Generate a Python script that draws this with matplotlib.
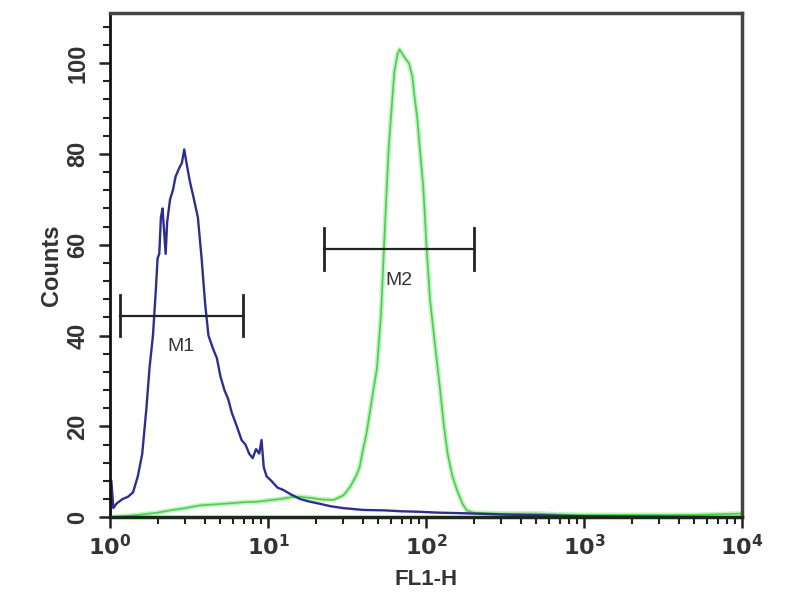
# plot.py
# flow cytometry histogram: control (blue) vs stained (green), FL1-H on log scale

import matplotlib.pyplot as plt
from matplotlib.ticker import MultipleLocator, LogLocator, FixedFormatter, FixedLocator

plt.rcParams['font.family'] = ['Liberation Sans', 'DejaVu Sans']

# control histogram (blue)
blue_x = [1.0, 1.02, 1.05, 1.1, 1.2, 1.3, 1.4, 1.5, 1.6, 1.7, 1.78, 1.87, 1.95, 2.0, 2.05,
          2.1, 2.15, 2.2, 2.25, 2.3, 2.4, 2.5, 2.6, 2.75, 2.85, 2.95, 3.05, 3.2, 3.4, 3.6,
          3.8, 4.0, 4.2, 4.5, 4.75, 5.0, 5.3, 5.6, 5.9, 6.2, 6.5, 6.8, 7.2, 7.6, 8.0, 8.4,
          8.8, 9.1, 9.4, 9.8, 10.5, 11.5, 12.5, 14, 16, 18, 21, 25, 30, 40, 55, 70, 90,
          120, 160, 200, 300, 400, 600, 1000, 10000]
blue_y = [0, 8, 2, 3, 4, 4.5, 5.5, 9, 14, 24, 33, 40, 50, 57, 58,
          66, 68, 63, 58, 65, 70, 72, 75, 77, 78, 81, 78, 74, 70, 66,
          57, 47, 40, 37, 35, 31, 28, 26, 23, 21, 19, 17, 16, 14, 13, 15,
          14, 17, 11, 9, 8, 6.5, 6, 5, 4, 3.5, 3, 2.4, 2, 1.6, 1.5, 1.3, 1.2,
          1.0, 0.9, 0.8, 0.6, 0.5, 0.4, 0.2, 0]

# stained histogram (green)
green_x = [1.0, 1.3, 1.6, 2.0, 2.4, 3.0, 3.7, 4.5, 5.5, 7, 8.5, 10, 12, 14, 16, 19, 22,
           26, 30, 33, 36, 38, 40, 42, 45, 49, 52, 54, 56, 58, 60, 63, 66, 68, 71, 74,
           78, 82, 85, 88, 92, 96, 101, 106, 114, 122, 130, 137, 147, 157, 170, 181,
           200, 300, 500, 700, 1000, 2000, 5000, 10000]
green_y = [0, 0.3, 0.6, 1.0, 1.5, 2.0, 2.6, 2.8, 3.0, 3.3, 3.4, 3.7, 4.0, 4.4, 4.5, 4.2, 3.9,
           3.8, 4.8, 6.6, 9, 11, 15, 18.4, 25, 33, 45, 58, 70, 81, 88, 98, 102, 103, 102, 101,
           100, 97, 92, 88, 80, 73, 59, 48, 38, 29, 20, 14, 9, 6, 3, 1.5,
           1.0, 0.8, 0.8, 0.6, 0.5, 0.5, 0.5, 0.8]

# gate markers: (label, x start, x end, y level)
markers = [('M1', 1.16, 6.9, 44.4), ('M2', 22.7, 202, 59.1)]

fig = plt.figure(figsize=(8, 6), dpi=100)
ax = fig.add_axes([0.1375, 0.138, 0.79, 0.84])

ax.plot(green_x, green_y, color='#9be89b', lw=3.5, alpha=0.6)
ax.plot(green_x, green_y, color='#4ccf4c', lw=1.2)
ax.plot(blue_x, blue_y, color='#2e2e8e', lw=1.7)

for name, x0, x1, y in markers:
    ax.plot([x0, x1], [y, y], color='#222222', lw=1.6)
    ax.plot([x0, x0], [y - 4.6, y + 4.6], color='#222222', lw=2)
    ax.plot([x1, x1], [y - 4.6, y + 4.6], color='#222222', lw=2)
    xc = (x0 * x1) ** 0.5
    ax.text(xc, y - 5.0, name, ha='center', va='top', fontsize=14, color='#333333')

ax.set_xscale('log')
ax.set_xlim(1, 10000)
ax.set_ylim(0, 111)

ax.yaxis.set_major_locator(MultipleLocator(20))
ax.yaxis.set_minor_locator(MultipleLocator(4))
ax.xaxis.set_major_locator(FixedLocator([1, 10, 100, 1000, 10000]))
ax.xaxis.set_major_formatter(FixedFormatter(['$\\mathbf{10^0}$', '$\\mathbf{10^1}$', '$\\mathbf{10^2}$',
                                             '$\\mathbf{10^3}$', '$\\mathbf{10^4}$']))
ax.xaxis.set_minor_locator(LogLocator(base=10, subs=range(2, 10)))

ax.tick_params(axis='both', which='major', direction='out', length=8, width=1.8,
               color='#222222', labelcolor='#333333')
ax.tick_params(axis='both', which='minor', direction='out', length=5, width=1.5, color='#222222')
ax.tick_params(axis='x', pad=5, labelsize=16)
ax.tick_params(axis='y', pad=7, labelsize=17)
for lbl in ax.get_yticklabels():
    lbl.set_rotation(90)
    lbl.set_va('center')
    lbl.set_fontweight('bold')

for side in ['top', 'right']:
    ax.spines[side].set_linewidth(2.5)
    ax.spines[side].set_color('#444444')
ax.spines['left'].set_linewidth(2)
ax.spines['left'].set_color('#111111')
ax.spines['bottom'].set_linewidth(2.5)
ax.spines['bottom'].set_color('#1a2a1a')

ax.set_xlabel('FL1-H', fontsize=16, fontweight='bold', color='#333333', labelpad=6)
ax.set_ylabel('Counts', fontsize=17, fontweight='bold', color='#333333', labelpad=2)

plt.savefig('out.png', dpi=100)
